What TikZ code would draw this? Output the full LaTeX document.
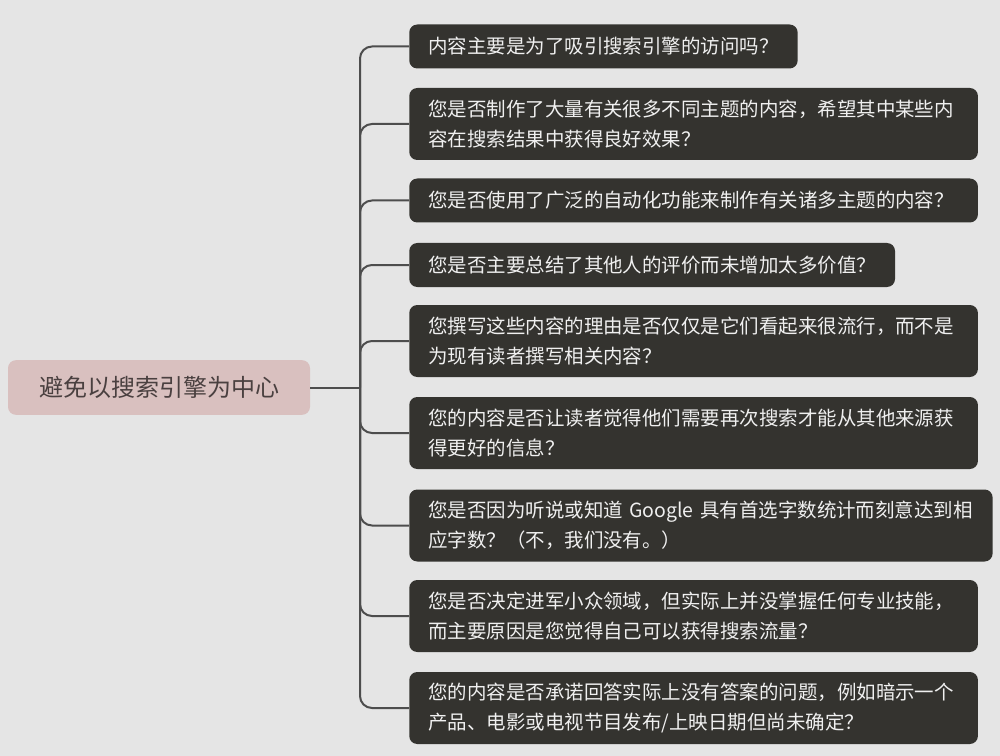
\documentclass[tikz,border=0pt]{standalone}
\usepackage{fontspec}
\newfontfamily\cjk{Noto Sans CJK SC}
\usetikzlibrary{positioning}
\definecolor{bggray}{HTML}{E5E5E5}
\definecolor{qdark}{HTML}{34332F}
\definecolor{rootpink}{HTML}{D9C0BF}
\definecolor{roottext}{HTML}{4A4040}
\definecolor{linegray}{HTML}{4D4D4D}
\tikzset{
  rootbox/.style={fill=rootpink,text=roottext,rounded corners=6pt,minimum width=226.5pt,minimum height=41pt,inner sep=0pt,font=\cjk\fontsize{18}{22}\selectfont},
  qbox/.style={fill=qdark,text=white!94!black,rounded corners=6pt,anchor=west,align=left,inner xsep=14.25pt,inner ysep=0pt,font=\cjk\fontsize{14.6}{22.5}\selectfont},
  oneline/.style={minimum height=33pt},
  twoline/.style={minimum height=54pt,text width=398pt},
  branch/.style={draw=linegray,line width=1.5pt,rounded corners=9pt}
}
\begin{document}
\begin{tikzpicture}[x=0.75pt,y=-0.75pt]
              \fill[bggray](0,0)rectangle(1000,756);
              \useasboundingbox(0,0)rectangle(1000,756);
              \node[rootbox](root)at(159,387.5){避免以搜索引擎为中心};
              \coordinate(trunk)at(360,387.5);
              \node[qbox,oneline](q1)at(409,46.5){内容主要是为了吸引搜索引擎的访问吗？};
              \node[qbox,twoline](q2)at(409,124){您是否制作了大量有关很多不同主题的内容，希望其中某些内\\容在搜索结果中获得良好效果？};
              \node[qbox,oneline,text width=398pt](q3)at(409,200.5){您是否使用了广泛的自动化功能来制作有关诸多主题的内容？};
              \node[qbox,oneline](q4)at(409,265){您是否主要总结了其他人的评价而未增加太多价值？};
              \node[qbox,twoline](q5)at(409,341){您撰写这些内容的理由是否仅仅是它们看起来很流行，而不是\\为现有读者撰写相关内容？};
              \node[qbox,twoline](q6)at(409,433){您的内容是否让读者觉得他们需要再次搜索才能从其他来源获\\得更好的信息？};
              \node[qbox,twoline,text width=409pt](q7)at(409,525.5){您是否因为听说或知道 Google 具有首选字数统计而刻意达到相\\应字数？（不，我们没有。）};
              \node[qbox,twoline](q8)at(409,616){您是否决定进军小众领域，但实际上并没掌握任何专业技能，\\而主要原因是您觉得自己可以获得搜索流量？};
              \node[qbox,twoline](q9)at(409,708){您的内容是否承诺回答实际上没有答案的问题，例如暗示一个\\产品、电影或电视节目发布/上映日期但尚未确定？};
              \draw[branch](root)--(trunk);
              \foreach \i in {1,...,9} \draw[branch](trunk)|-(q\i.west);
\end{tikzpicture}
\end{document}
